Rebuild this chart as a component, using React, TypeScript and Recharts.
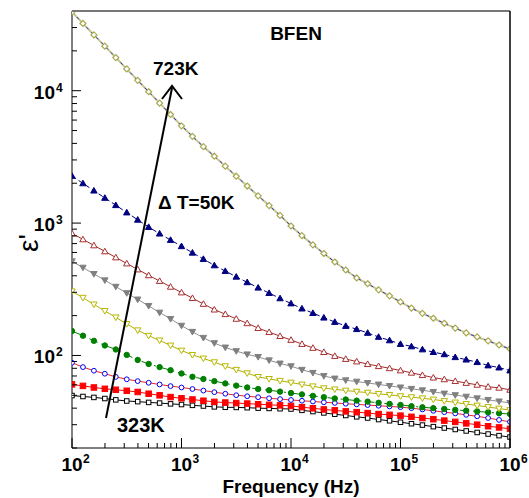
import { LineChart, Line, XAxis, YAxis } from "recharts"

const FONT = "'Liberation Sans', Arial, Helvetica, sans-serif"

// measurement frequencies (Hz), ~10 per decade
const FREQ = [
  100, 125.9, 158.5, 199.5, 251.2, 316.2, 398.1, 501.2, 631, 794.3,
  1000, 1259, 1585, 1995, 2512, 3162, 3981, 5012, 6310, 7943,
  10000, 12590, 15850, 19950, 25120, 31620, 39810, 50120, 63100, 79430,
  100000, 125900, 158500, 199500, 251200, 316200, 398100, 501200, 631000, 794300,
  1000000,
]

// real permittivity at each temperature
const EPS_323 = [49.8, 49, 48.2, 47.3, 46.2, 45.3, 44.8, 44.2, 43.7, 43.1, 42.6, 42, 41.5, 40.9, 40.6, 40.5, 40.3, 40, 39.8, 39.6, 39.4, 38.5, 37.7, 36.8, 36, 35.2, 34.4, 33.7, 32.8, 32.1, 31.3, 30.5, 29.8, 29, 28.3, 27.6, 26.9, 26.2, 25.5, 24.8, 24.2]
const EPS_373 = [60.5, 58.9, 57.3, 56, 55.1, 54.1, 53, 51.4, 50, 48.5, 47.5, 46.5, 45.5, 44.6, 44.1, 43.7, 43.3, 42.8, 42.4, 42, 41.6, 40.7, 39.9, 39.1, 38.5, 37.8, 37.3, 36.7, 36.1, 35.6, 35.1, 34.4, 33.7, 33, 32.2, 31.5, 30.7, 30, 29.2, 28.6, 27.9]
const EPS_423 = [88.1, 81.7, 76.7, 72.8, 68.9, 66.1, 64, 62.2, 60.4, 58.7, 57.3, 55.8, 54.3, 52.8, 51.4, 50.1, 49.2, 48.4, 47.5, 46.8, 46.1, 45.5, 44.9, 44.3, 43.8, 43.2, 42.7, 42.2, 41.7, 41.2, 40.7, 40, 39.1, 38.2, 37.3, 36.5, 35.6, 34.7, 33.7, 32.6, 31.5]
const EPS_473 = [153, 141, 129, 119, 111, 101, 92.5, 86.3, 81.7, 77.4, 73.1, 69, 66.4, 64, 61.5, 59.2, 57.3, 55.8, 54.6, 53.3, 52, 50.8, 49.5, 48.4, 47.3, 46.5, 45.6, 44.8, 43.9, 43.1, 42.3, 41.4, 40.6, 40, 39.4, 38.8, 38.3, 37.8, 37.2, 36.6, 36.1]
const EPS_523 = [305, 273, 243, 217, 194, 173, 155, 141, 130, 119, 109, 101, 95, 89, 83, 78, 73.5, 68.9, 66.5, 64.4, 62.4, 60.4, 58.5, 56.6, 55.5, 54.3, 53.3, 52.4, 51.3, 50.4, 49.3, 48.4, 47.5, 46.5, 45.3, 44.2, 43, 41.9, 40.8, 39.7, 38.7]
const EPS_573 = [515, 461, 413, 370, 331, 296, 265, 237, 211, 189, 168, 151, 136, 124, 115, 108, 102, 97.5, 92, 87, 83, 78, 74, 70, 67, 65, 63.5, 62, 60.4, 58.9, 57.4, 56, 54.6, 53.1, 51.6, 50.2, 48.9, 47.5, 46.2, 45, 43.8]
const EPS_623 = [836, 753, 678, 611, 550, 495, 446, 403, 365, 330, 299, 271, 245, 222, 205, 189, 175, 161, 150, 140, 131, 122, 114, 106, 99, 94, 90, 86, 83, 80, 77, 74, 71, 68, 66, 64, 62, 60, 58, 57, 55]
const EPS_673 = [2270, 1995, 1758, 1549, 1365, 1202, 1059, 933, 832, 745, 668, 597, 535, 479, 434, 393, 357, 325, 296, 270, 247, 226, 209, 193, 179, 167, 158, 148, 138, 130, 122, 117, 111, 106, 102, 97, 93, 89, 84, 81, 77]
const EPS_723 = [39300, 32200, 26400, 21700, 17800, 14600, 11970, 9820, 8050, 6610, 5430, 4520, 3780, 3200, 2690, 2260, 1905, 1607, 1355, 1143, 951, 804, 685, 589, 508, 442, 385, 348, 313, 282, 254, 228, 208, 191, 175, 161, 148, 138, 129, 120, 112]

// log axis ticks: decades times 1..9
const MULTS = [1, 2, 3, 4, 5, 6, 7, 8, 9]
const X_DECADES = [100, 1000, 10000, 100000]
const Y_DECADES = [10, 100, 1000, 10000]
const X_TICKS = [...X_DECADES.flatMap((d) => MULTS.map((m) => d * m)), 1000000]
const Y_TICKS = Y_DECADES.flatMap((d) => MULTS.map((m) => d * m)).filter((v) => v >= 20 && v < 40000)

const rows = FREQ.map((f, i) => ({
  f,
  t323: EPS_323[i],
  t373: EPS_373[i],
  t423: EPS_423[i],
  t473: EPS_473[i],
  t523: EPS_523[i],
  t573: EPS_573[i],
  t623: EPS_623[i],
  t673: EPS_673[i],
  t723: EPS_723[i],
}))

function isDecade(v: number) {
  const l = Math.log10(v)
  return Math.abs(l - Math.round(l)) < 1e-6
}

function XTick(props: any) {
  const { x, y, payload } = props
  const v = payload.value
  const major = isDecade(v)
  return (
    <g>
      <line x1={x} x2={x} y1={y} y2={y - (major ? 10 : 5)} stroke="#000" />
      {major && (
        <>
          <text x={x} y={y + 23} textAnchor="middle" fontSize={19} fontWeight="bold" fontFamily={FONT} fill="#000">10</text>
          <text x={x + 11} y={y + 15} fontSize={12} fontWeight="bold" fontFamily={FONT} fill="#000">{Math.round(Math.log10(v))}</text>
        </>
      )}
    </g>
  )
}

function YTick(props: any) {
  const { x, y, payload } = props
  const v = payload.value
  const major = isDecade(v)
  return (
    <g>
      <line x1={x} x2={x + (major ? 9 : 5)} y1={y} y2={y} stroke="#000" />
      {major && (
        <>
          <text x={x - 17} y={y + 8} textAnchor="end" fontSize={19} fontWeight="bold" fontFamily={FONT} fill="#000">10</text>
          <text x={x - 16} y={y + 1} fontSize={12} fontWeight="bold" fontFamily={FONT} fill="#000">{Math.round(Math.log10(v))}</text>
        </>
      )}
    </g>
  )
}

const square = (stroke: string, fill: string, s: number) => (p: any) =>
  p.cx == null ? <g key={p.index} /> : (
    <rect key={p.index} x={p.cx - s / 2} y={p.cy - s / 2} width={s} height={s} stroke={stroke} fill={fill} />
  )

const circle = (stroke: string, fill: string, r: number) => (p: any) =>
  p.cx == null ? <g key={p.index} /> : <circle key={p.index} cx={p.cx} cy={p.cy} r={r} stroke={stroke} fill={fill} />

const triUp = (stroke: string, fill: string, s: number) => (p: any) =>
  p.cx == null ? <g key={p.index} /> : (
    <polygon key={p.index} points={`${p.cx},${p.cy - s} ${p.cx - s},${p.cy + s * 0.75} ${p.cx + s},${p.cy + s * 0.75}`} stroke={stroke} fill={fill} />
  )

const triDown = (stroke: string, fill: string, s: number) => (p: any) =>
  p.cx == null ? <g key={p.index} /> : (
    <polygon key={p.index} points={`${p.cx},${p.cy + s} ${p.cx - s},${p.cy - s * 0.75} ${p.cx + s},${p.cy - s * 0.75}`} stroke={stroke} fill={fill} />
  )

const diamond = (stroke: string, fill: string, s: number) => (p: any) =>
  p.cx == null ? <g key={p.index} /> : (
    <polygon key={p.index} points={`${p.cx},${p.cy - s} ${p.cx + s},${p.cy} ${p.cx},${p.cy + s} ${p.cx - s},${p.cy}`} stroke={stroke} fill={fill} strokeWidth={1.2} />
  )

export default function App() {
  return (
    <div style={{ position: "absolute", left: 0, top: 0, width: 529, height: 498, background: "#fff" }}>
      <LineChart width={529} height={498} data={rows} margin={{ top: 11, right: 19, bottom: 0, left: 0 }}>
        <XAxis
          dataKey="f"
          type="number"
          scale="log"
          domain={[100, 1000000]}
          ticks={X_TICKS}
          interval={0}
          tick={<XTick />}
          tickSize={0}
          tickMargin={0}
          tickLine={false}
          axisLine={{ stroke: "#000" }}
          height={50}
          allowDataOverflow
        />
        <YAxis
          type="number"
          scale="log"
          domain={[20, 40000]}
          ticks={Y_TICKS}
          interval={0}
          tick={<YTick />}
          tickSize={0}
          tickMargin={0}
          tickLine={false}
          axisLine={{ stroke: "#000" }}
          width={72}
          allowDataOverflow
        />
        <Line dataKey="t323" stroke="#000" strokeWidth={1} dot={square("#000", "#fff", 4.5)} isAnimationActive={false} />
        <Line dataKey="t373" stroke="#ff0000" strokeWidth={1} dot={square("#ff0000", "#ff0000", 5.5)} isAnimationActive={false} />
        <Line dataKey="t423" stroke="#ee2222" strokeWidth={1} dot={circle("#0000ff", "#fff", 2.4)} isAnimationActive={false} />
        <Line dataKey="t473" stroke="#008000" strokeWidth={1} strokeDasharray="9 4 2 4" dot={circle("#008000", "#008000", 2.7)} isAnimationActive={false} />
        <Line dataKey="t523" stroke="#b0b000" strokeWidth={1} dot={triDown("#b8b800", "#fff", 3.2)} isAnimationActive={false} />
        <Line dataKey="t573" stroke="#909090" strokeWidth={1} dot={triDown("#808080", "#808080", 3.2)} isAnimationActive={false} />
        <Line dataKey="t623" stroke="#a52a2a" strokeWidth={1} dot={triUp("#a83030", "#fff", 3.2)} isAnimationActive={false} />
        <Line dataKey="t673" stroke="#000080" strokeWidth={1} strokeDasharray="5 3" dot={triUp("#000080", "#000080", 3.2)} isAnimationActive={false} />
        <Line dataKey="t723" stroke="#c8c890" strokeWidth={2} dot={diamond("#a8a850", "#fff", 3)} isAnimationActive={false} />
        <Line dataKey="t723" stroke="#3333cc" strokeWidth={1} strokeDasharray="3 4" dot={false} isAnimationActive={false} />
      </LineChart>
      <svg width={529} height={498} style={{ position: "absolute", left: 0, top: 0, pointerEvents: "none" }} fontFamily={FONT}>
        <line x1={72} x2={510} y1={11} y2={11} stroke="#777" strokeWidth={2} />
        <line x1={510} x2={510} y1={11} y2={448} stroke="#000" strokeWidth={1.5} />
        <text x={296} y={40} textAnchor="middle" fontSize={19} fontWeight="bold">BFEN</text>
        <text x={153} y={75} fontSize={19} fontWeight="bold">723K</text>
        <text x={158} y={209} fontSize={19} fontWeight="bold">Δ T=50K</text>
        <text x={117} y={432} fontSize={20} fontWeight="bold">323K</text>
        <line x1={106} y1={418} x2={172} y2={88} stroke="#000" strokeWidth={2} />
        <polyline points="162,99 172,86 182,99" fill="none" stroke="#000" strokeWidth={2} />
        <text x={291} y={493} textAnchor="middle" fontSize={19} fontWeight="bold">Frequency (Hz)</text>
        <text x={0} y={0} transform="translate(38,243) rotate(-90)" textAnchor="middle" fontSize={28}>ε'</text>
      </svg>
    </div>
  )
}
